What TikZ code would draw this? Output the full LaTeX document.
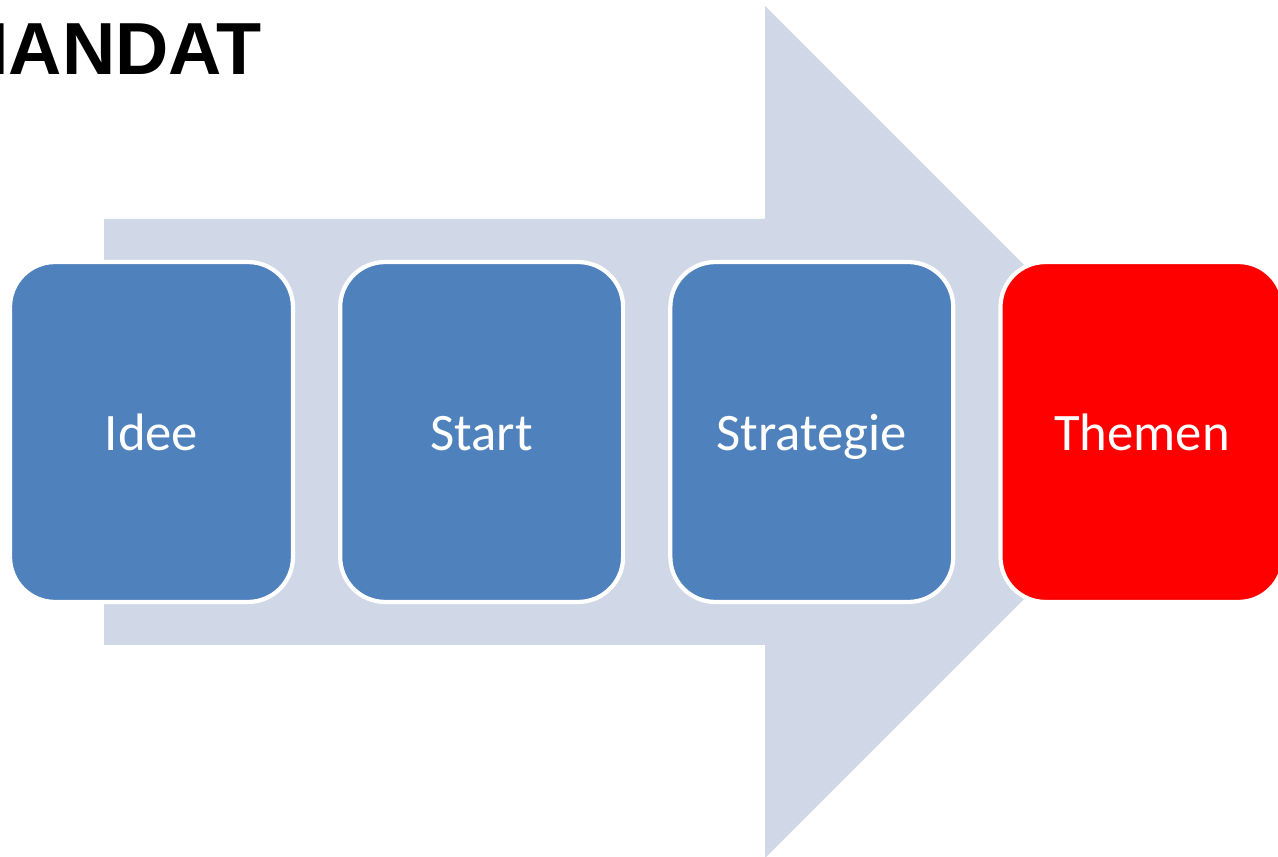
\documentclass[tikz,border=0pt]{standalone}
\usepackage{fontspec}
\setmainfont{Carlito}
\newfontfamily\titlefont{Liberation Sans}
\usetikzlibrary{positioning}
\definecolor{arrowgray}{HTML}{D0D8E8}
\definecolor{stepblue}{HTML}{4F81BD}
\tikzset{
    phase-box/.style = {draw=white, line width=2.4pt, fill=stepblue, text=white, rectangle, rounded corners=0.9cm,
        minimum width=5.66cm, minimum height=6.8cm, text height=21pt, text depth=0.5pt,
        font=\fontsize{30}{36}\selectfont},
    phase-box-now/.style = {phase-box, fill=red},
}
\begin{document}
\begin{tikzpicture}[x=0.02cm, y=-0.02cm]
\clip (0,0) rectangle (1278,857);
\fill [arrowgray] (104,219) -- (765,219) -- (765,6) -- (1191,432) -- (765,858) -- (765,645) -- (104,645) -- cycle;
\node [anchor=base east, inner sep=0pt, font=\titlefont\bfseries\fontsize{42}{48}\selectfont] (title) at (262,75) {MANDAT};
\node [phase-box] (idee) at (151.5,432) {Idee};
\node [phase-box, right=0.86cm of idee] (start) {Start};
\node [phase-box, right=0.86cm of start] (strategie) {Strategie};
\node [phase-box-now, right=0.86cm of strategie] (themen) {Themen};
\end{tikzpicture}
\end{document}
